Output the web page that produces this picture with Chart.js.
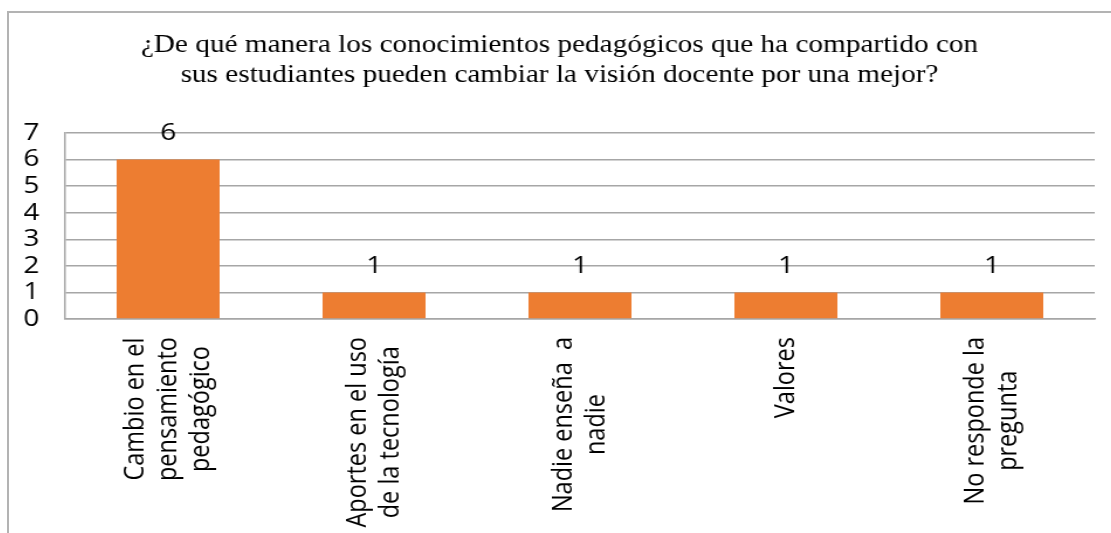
<!DOCTYPE html>
<html lang="es">
<head>
    <meta charset="UTF-8">
    <title>Conocimientos pedagógicos</title>
    <script src="https://cdn.jsdelivr.net/npm/chart.js@4.4.0/dist/chart.umd.min.js"></script>
    <style>
        html, body {
            margin: 0;
            padding: 0;
            background: #fff;
            overflow: hidden;
            width: 1111px;
            height: 533px;
        }
        .frame {
            position: absolute;
            left: 7px;
            top: 11px;
            width: 1200px;
            height: 600px;
            border: 2px solid #b3b3b3;
        }
        /* the original picture is stretched sideways, so the chart is too */
        .stretch {
            position: absolute;
            left: 0;
            top: 0;
            width: 954px;
            height: 560px;
            transform: scaleX(1.17);
            transform-origin: 0 0;
        }
    </style>
</head>
<body>
    <div class="frame">
        <div class="stretch">
            <canvas id="chart"></canvas>
        </div>
    </div>

    <script>
        const categories = [
            ['Cambio en el', 'pensamiento', 'pedagógico'],
            ['Aportes en el uso', 'de la tecnología'],
            ['Nadie enseña  a', 'nadie'],
            ['Valores'],
            ['No responde la', 'pregunta']
        ];
        const counts = [6, 1, 1, 1, 1];
        const yTicks = [0, 1, 2, 3, 4, 5, 6, 7];

        const labelFont = '24px "Open Sans"';
        const categoryFont = '23.5px "Open Sans"';

        // value above each bar
        const valueLabels = {
            id: 'valueLabels',
            afterDatasetsDraw(chart) {
                const ctx = chart.ctx;
                const meta = chart.getDatasetMeta(0);
                ctx.save();
                ctx.font = labelFont;
                ctx.fillStyle = '#000';
                ctx.textAlign = 'center';
                ctx.textBaseline = 'middle';
                meta.data.forEach((bar, i) => {
                    ctx.fillText(String(counts[i]), bar.x, bar.y - 26);
                });
                ctx.restore();
            }
        };

        // vertical category labels, lines centred on each other
        const categoryLabels = {
            id: 'categoryLabels',
            afterDraw(chart) {
                const ctx = chart.ctx;
                const xScale = chart.scales.x;
                const top = chart.chartArea.bottom + 18;
                ctx.save();
                ctx.font = categoryFont;
                ctx.fillStyle = '#000';
                ctx.textAlign = 'center';
                ctx.textBaseline = 'middle';
                categories.forEach((lines, i) => {
                    const w = Math.max(...lines.map(l => ctx.measureText(l).width));
                    ctx.save();
                    ctx.translate(xScale.getPixelForValue(i), top + w / 2);
                    ctx.rotate(-Math.PI / 2);
                    lines.forEach((line, j) => {
                        ctx.fillText(line, 0, (j - (lines.length - 1) / 2) * 28);
                    });
                    ctx.restore();
                });
                ctx.restore();
            }
        };

        new Chart(document.getElementById('chart'), {
            type: 'bar',
            data: {
                labels: categories,
                datasets: [{
                    data: counts,
                    backgroundColor: '#ed7d31',
                    borderWidth: 0,
                    categoryPercentage: 1,
                    barPercentage: 0.5
                }]
            },
            options: {
                responsive: true,
                maintainAspectRatio: false,
                animation: false,
                layout: {
                    padding: { left: 13, right: 26, bottom: 246 }
                },
                plugins: {
                    legend: { display: false },
                    tooltip: { enabled: false },
                    title: {
                        display: true,
                        text: [
                            '¿De qué manera los conocimientos pedagógicos que ha compartido con',
                            'sus estudiantes pueden cambiar la visión docente por una mejor?'
                        ],
                        color: '#000',
                        font: { family: '"Liberation Serif"', size: 25, weight: 'normal', lineHeight: 1.22 },
                        padding: { top: 17, bottom: 42 }
                    }
                },
                scales: {
                    x: {
                        grid: { display: false },
                        border: { display: true, color: '#a6a6a6', width: 1.5 },
                        ticks: { display: false }
                    },
                    y: {
                        min: 0,
                        max: 7,
                        afterBuildTicks: axis => { axis.ticks = yTicks.map(v => ({ value: v })); },
                        afterFit: axis => { axis.width = 35; },
                        grid: { color: '#a6a6a6', lineWidth: 1.5, drawTicks: false },
                        border: { display: true, color: '#a6a6a6', width: 1.5 },
                        ticks: {
                            color: '#000',
                            autoSkip: false,
                            font: { family: '"Open Sans"', size: 24 },
                            padding: 22
                        }
                    }
                }
            },
            plugins: [valueLabels, categoryLabels]
        });
    </script>
</body>
</html>
